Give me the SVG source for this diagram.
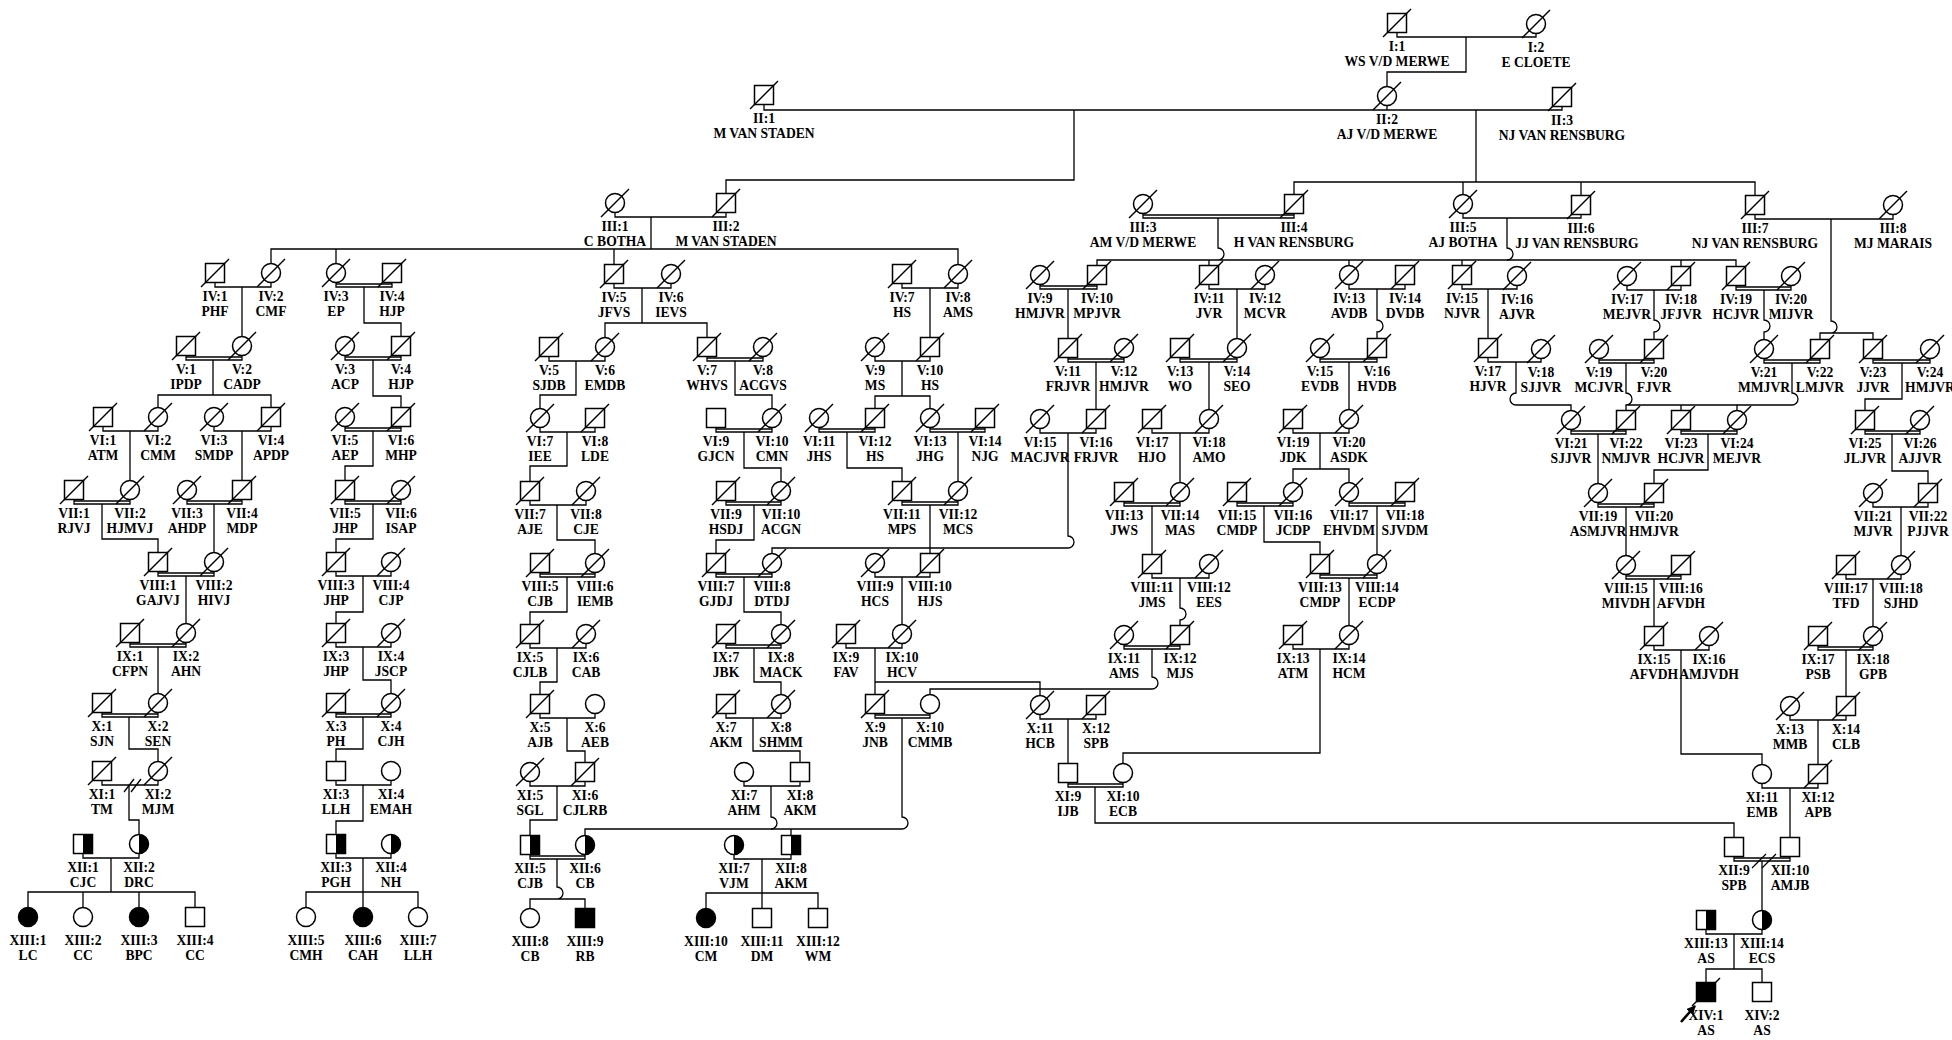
<svg xmlns="http://www.w3.org/2000/svg" width="1952" height="1040" viewBox="0 0 1952 1040">
<style>
.s{fill:#fff;stroke:#000;stroke-width:1.5}
.k{fill:#000;stroke:#000;stroke-width:1.5}
.l{fill:none;stroke:#000;stroke-width:1.3}
text{font-family:"Liberation Serif","Times New Roman",serif;font-weight:700;font-size:13.6px;text-anchor:middle;fill:#000}
</style>
<defs>
<rect id="sq" class="s" x="-9.5" y="-9.5" width="19" height="19"/>
<circle id="ci" class="s" r="9.5"/>
<rect id="sqf" class="k" x="-9.5" y="-9.5" width="19" height="19"/>
<circle id="cif" class="k" r="9.5"/>
<g id="sqh"><rect class="s" x="-9.5" y="-9.5" width="19" height="19"/><rect x="0" y="-9.5" width="9.5" height="19" fill="#000"/></g>
<g id="cih"><circle class="s" r="9.5"/><path d="M0 -9.5A9.5 9.5 0 0 1 0 9.5Z" fill="#000"/></g>
<path id="d" d="M-14 14L14 -14" stroke="#000" stroke-width="1.4" fill="none"/>
<marker id="ah" viewBox="0 0 10 10" refX="9" refY="5" markerWidth="9" markerHeight="9" markerUnits="userSpaceOnUse" orient="auto"><path d="M0 0L10 5L0 10Z"/></marker>
</defs>
<rect width="1952" height="1040" fill="#fff"/>
<g id="connectors" class="l">
<path d="M1397 32.5V37H1536V33.5"/>
<path d="M764 104.5V110H1562V106.5M1387 105.5V110"/>
<path d="M615 212.5V217H726V212.5"/>
<path d="M1143 213.5V218H1294V213.5M1143 215H1294"/>
<path d="M1463 213.5V218H1581V214.5"/>
<path d="M1755 214.5V219H1893V214.5"/>
<path d="M215 282.5V287H271V282.5"/>
<path d="M336 282.5V287H392V282.5M336 284H392"/>
<path d="M614 283.5V288H671V283.5"/>
<path d="M902 283.5V288H958V283.5"/>
<path d="M1040 284.5V289H1097V284.5M1040 286H1097"/>
<path d="M1209 284.5V289H1265V284.5"/>
<path d="M1349 284.5V289H1405V284.5"/>
<path d="M1462 284.5V289H1517V285.5"/>
<path d="M1627 285.5V290H1681V285.5"/>
<path d="M1736 285.5V290H1791V285.5M1736 287H1791"/>
<path d="M186 355.5V360H242V355.5M186 357H242"/>
<path d="M345 355.5V360H401V355.5M345 357H401"/>
<path d="M549 356.5V361H605V356.5"/>
<path d="M707 356.5V361H763V356.5M707 358H763"/>
<path d="M875 356.5V361H930V356.5"/>
<path d="M1068 357.5V362H1124V357.5M1068 359H1124"/>
<path d="M1180 357.5V362H1237V357.5M1180 359H1237"/>
<path d="M1320 357.5V362H1377V357.5M1320 359H1377"/>
<path d="M1488 357.5V362H1541V358.5"/>
<path d="M1599 358.5V363H1654V358.5M1599 360H1654"/>
<path d="M1764 358.5V363H1820V358.5M1764 360H1820"/>
<path d="M1873 358.5V363H1930V358.5M1873 360H1930"/>
<path d="M103 426.5V431H158V426.5"/>
<path d="M214 426.5V431H271V426.5"/>
<path d="M345 426.5V431H401V426.5M345 428H401"/>
<path d="M540 427.5V432H595V427.5"/>
<path d="M716 427.5V432H772V427.5M716 429H772"/>
<path d="M819 427.5V432H875V427.5M819 429H875"/>
<path d="M930 427.5V432H985V427.5M930 429H985"/>
<path d="M1040 428.5V433H1096V428.5"/>
<path d="M1152 428.5V433H1209V428.5"/>
<path d="M1293 428.5V433H1349V428.5"/>
<path d="M1571 429.5V434H1626V429.5M1571 431H1626"/>
<path d="M1681 429.5V434H1737V429.5M1681 431H1737"/>
<path d="M1865 429.5V434H1920V429.5M1865 431H1920"/>
<path d="M74 499.5V504H130V499.5M74 501H130"/>
<path d="M187 499.5V504H242V499.5M187 501H242"/>
<path d="M345 499.5V504H401V499.5M345 501H401"/>
<path d="M530 500.5V505H586V500.5"/>
<path d="M726 500.5V505H781V500.5M726 502H781"/>
<path d="M902 500.5V505H958V500.5M902 502H958"/>
<path d="M1124 501.5V506H1180V501.5M1124 503H1180"/>
<path d="M1237 501.5V506H1293V501.5M1237 503H1293"/>
<path d="M1349 501.5V506H1405V501.5M1349 503H1405"/>
<path d="M1598 502.5V507H1654V502.5M1598 504H1654"/>
<path d="M1873 502.5V507H1928V502.5"/>
<path d="M158 571.5V576H214V571.5M158 573H214"/>
<path d="M336 571.5V576H391V571.5"/>
<path d="M540 572.5V577H595V572.5M540 574H595"/>
<path d="M716 572.5V577H772V572.5M716 574H772"/>
<path d="M875 572.5V577H930V572.5"/>
<path d="M1152 573.5V578H1209V573.5"/>
<path d="M1320 573.5V578H1377V573.5M1320 575H1377"/>
<path d="M1626 574.5V579H1681V574.5M1626 576H1681"/>
<path d="M1846 574.5V579H1901V574.5"/>
<path d="M130 642.5V647H186V642.5M130 644H186"/>
<path d="M336 642.5V647H391V642.5"/>
<path d="M530 643.5V648H586V643.5"/>
<path d="M726 643.5V648H781V643.5M726 645H781"/>
<path d="M846 643.5V648H902V643.5"/>
<path d="M1124 644.5V649H1180V644.5M1124 646H1180"/>
<path d="M1293 644.5V649H1349V644.5"/>
<path d="M1654 645.5V650H1709V645.5"/>
<path d="M1818 645.5V650H1873V645.5M1818 647H1873"/>
<path d="M102 712.5V717H158V712.5M102 714H158"/>
<path d="M336 712.5V717H391V712.5M336 714H391"/>
<path d="M540 713.5V718H595V713.5"/>
<path d="M726 713.5V718H781V713.5"/>
<path d="M875 713.5V718H930V713.5M875 715H930"/>
<path d="M1040 714.5V719H1096V714.5"/>
<path d="M1790 715.5V720H1846V715.5"/>
<path d="M102 780.5V785H158V780.5"/>
<path d="M336 780.5V785H391V780.5"/>
<path d="M530 781.5V786H585V781.5"/>
<path d="M744 781.5V786H800V781.5"/>
<path d="M1068 782.5V787H1123V782.5M1068 784H1123"/>
<path d="M1762 783.5V788H1818V783.5"/>
<path d="M83 853.5V858H139V853.5"/>
<path d="M336 853.5V858H391V853.5"/>
<path d="M530 854.5V859H585V854.5M530 856H585"/>
<path d="M734 854.5V859H791V854.5"/>
<path d="M1734 856.5V861H1790V856.5M1734 858H1790"/>
<path d="M1706 929.5V934H1762V929.5"/>
<path d="M124 792L134 779M131 792L141 779"/>
<path d="M1752 868L1766 854M1762 868L1776 854"/>
<path d="M1466 37V72H1387V86.5"/>
<path d="M1074 110V180H726V193.5"/>
<path d="M1476 110V182M1294 194.5V182H1755V195.5M1463 182V194.5M1581 182V195.5"/>
<path d="M651 217V249M271 263.5V249H958V264.5M336 249V263.5M614 249V264.5"/>
<path d="M1218 218V248A6 6 0 0 1 1218 260M1097 265.5V260H1736V266.5M1209 260V265.5M1349 260V265.5M1462 260V265.5M1681 260V266.5"/>
<path d="M1507 218V248A6 6 0 0 1 1507 260"/>
<path d="M1831 219V321A6 6 0 0 1 1831 333M1820 339.5V333H1873V339.5"/>
<path d="M242 287V336.5"/>
<path d="M364 287V323H401V336.5"/>
<path d="M642 288V323M605 337.5V323H707V337.5"/>
<path d="M930 288V337.5"/>
<path d="M1068 289V338.5"/>
<path d="M1237 289V338.5"/>
<path d="M1377 289V320A6 6 0 0 1 1377 332V338.5"/>
<path d="M1488 289V338.5"/>
<path d="M1654 290V320A6 6 0 0 1 1654 332V339.5"/>
<path d="M1764 290V320A6 6 0 0 1 1764 332V339.5"/>
<path d="M213 360V395M158 407.5V395H271V407.5"/>
<path d="M373 360V396H401V407.5"/>
<path d="M576 361V395H540V408.5"/>
<path d="M735 361V395H772V408.5"/>
<path d="M902 361V396M875 408.5V396H930V408.5"/>
<path d="M1096 362V409.5"/>
<path d="M1209 362V409.5"/>
<path d="M1349 362V409.5"/>
<path d="M1516 362V393A6 6 0 0 0 1516 405H1571V410.5"/>
<path d="M1626 363V393A6 6 0 0 1 1626 405V410.5M1626 405H1737V410.5M1681 405V410.5"/>
<path d="M1792 363V393A6 6 0 0 1 1792 405H1737"/>
<path d="M1902 363V399H1865V410.5"/>
<path d="M130 431V480.5"/>
<path d="M242 431V480.5"/>
<path d="M373 431V466H345V480.5"/>
<path d="M567 432V466H530V481.5"/>
<path d="M744 432V468H781V481.5"/>
<path d="M847 432V468H902V481.5"/>
<path d="M958 432V481.5"/>
<path d="M1068 433V536A6 6 0 0 1 1068 548H772V553.5"/>
<path d="M1180 433V482.5"/>
<path d="M1320 433V469M1293 482.5V469H1349V482.5"/>
<path d="M1598 434V483.5"/>
<path d="M1708 434V470H1654V483.5"/>
<path d="M1892 434V471H1928V483.5"/>
<path d="M102 504V539H158V552.5"/>
<path d="M214 504V552.5"/>
<path d="M373 504V539H336V552.5"/>
<path d="M557 505V540H595V553.5"/>
<path d="M754 505V540H716V553.5"/>
<path d="M930 505V553.5"/>
<path d="M1152 506V554.5"/>
<path d="M1264 506V542H1320V554.5"/>
<path d="M1377 506V554.5"/>
<path d="M1626 507V555.5"/>
<path d="M1901 507V555.5"/>
<path d="M186 576V623.5"/>
<path d="M363 576V612H336V623.5"/>
<path d="M567 577V612H530V624.5"/>
<path d="M744 577V612H781V624.5"/>
<path d="M902 577V624.5"/>
<path d="M1180 578V608A6 6 0 0 1 1180 620V625.5"/>
<path d="M1349 578V625.5"/>
<path d="M1654 579V626.5"/>
<path d="M1873 579V626.5"/>
<path d="M158 647V693.5"/>
<path d="M363 647V680H391V693.5"/>
<path d="M557 648V682H540V694.5"/>
<path d="M754 648V682H781V694.5"/>
<path d="M875 648V694.5M875 682H1040V695.5"/>
<path d="M1152 649V677A6 6 0 0 1 1152 689H930V694.5"/>
<path d="M1320 649V753H1123V763.5"/>
<path d="M1681 650V754H1762V764.5"/>
<path d="M1846 650V696.5"/>
<path d="M129 717V749H158V761.5"/>
<path d="M363 717V749H336V761.5"/>
<path d="M567 718V751H585V762.5"/>
<path d="M753 718V751H800V762.5"/>
<path d="M902 718V817A6 6 0 0 1 902 829H585V835.5M791 829V835.5"/>
<path d="M771 786V817A6 6 0 0 1 771 829"/>
<path d="M1068 719V763.5"/>
<path d="M1818 720V764.5"/>
<path d="M129 785V820H139V834.5"/>
<path d="M363 785V821H336V834.5"/>
<path d="M557 786V820H530V835.5"/>
<path d="M1095 787V823H1734V837.5"/>
<path d="M1790 788V837.5"/>
<path d="M111 858V892M28 907.5V892H195V907.5M83 892V907.5M139 892V907.5"/>
<path d="M363 858V892M306 907.5V892H418V907.5M363 892V907.5"/>
<path d="M557 859V887A6 6 0 0 1 557 899M530 908.5V899H585V908.5"/>
<path d="M762 859V893M706 908.5V893H818V908.5M762 893V908.5"/>
<path d="M1762 861V910.5"/>
<path d="M1734 934V969M1706 982.5V969H1762V982.5"/>
<path d="M1681 1022L1695 1006" stroke-width="2.6" marker-end="url(#ah)"/>
</g>
<g id="nodes">
<g id="I-1" transform="translate(1397 23)"><use href="#sq"/><use href="#d"/><text y="27.5">I:1</text><text y="42.5">WS V/D MERWE</text></g>
<g id="I-2" transform="translate(1536 24)"><use href="#ci"/><use href="#d"/><text y="27.5">I:2</text><text y="42.5">E CLOETE</text></g>
<g id="II-1" transform="translate(764 95)"><use href="#sq"/><use href="#d"/><text y="27.5">II:1</text><text y="42.5">M VAN STADEN</text></g>
<g id="II-2" transform="translate(1387 96)"><use href="#ci"/><use href="#d"/><text y="27.5">II:2</text><text y="42.5">AJ V/D MERWE</text></g>
<g id="II-3" transform="translate(1562 97)"><use href="#sq"/><use href="#d"/><text y="27.5">II:3</text><text y="42.5">NJ VAN RENSBURG</text></g>
<g id="III-1" transform="translate(615 203)"><use href="#ci"/><use href="#d"/><text y="27.5">III:1</text><text y="42.5">C BOTHA</text></g>
<g id="III-2" transform="translate(726 203)"><use href="#sq"/><use href="#d"/><text y="27.5">III:2</text><text y="42.5">M VAN STADEN</text></g>
<g id="III-3" transform="translate(1143 204)"><use href="#ci"/><use href="#d"/><text y="27.5">III:3</text><text y="42.5">AM V/D MERWE</text></g>
<g id="III-4" transform="translate(1294 204)"><use href="#sq"/><use href="#d"/><text y="27.5">III:4</text><text y="42.5">H VAN RENSBURG</text></g>
<g id="III-5" transform="translate(1463 204)"><use href="#ci"/><use href="#d"/><text y="27.5">III:5</text><text y="42.5">AJ BOTHA</text></g>
<g id="III-6" transform="translate(1581 205)"><use href="#sq"/><use href="#d"/><text y="27.5">III:6</text><text x="-4" y="42.5">JJ VAN RENSBURG</text></g>
<g id="III-7" transform="translate(1755 205)"><use href="#sq"/><use href="#d"/><text y="27.5">III:7</text><text y="42.5">NJ VAN RENSBURG</text></g>
<g id="III-8" transform="translate(1893 205)"><use href="#ci"/><use href="#d"/><text y="27.5">III:8</text><text y="42.5">MJ MARAIS</text></g>
<g id="IV-1" transform="translate(215 273)"><use href="#sq"/><use href="#d"/><text y="27.5">IV:1</text><text y="42.5">PHF</text></g>
<g id="IV-2" transform="translate(271 273)"><use href="#ci"/><use href="#d"/><text y="27.5">IV:2</text><text y="42.5">CMF</text></g>
<g id="IV-3" transform="translate(336 273)"><use href="#ci"/><use href="#d"/><text y="27.5">IV:3</text><text y="42.5">EP</text></g>
<g id="IV-4" transform="translate(392 273)"><use href="#sq"/><use href="#d"/><text y="27.5">IV:4</text><text y="42.5">HJP</text></g>
<g id="IV-5" transform="translate(614 274)"><use href="#sq"/><use href="#d"/><text y="27.5">IV:5</text><text y="42.5">JFVS</text></g>
<g id="IV-6" transform="translate(671 274)"><use href="#ci"/><use href="#d"/><text y="27.5">IV:6</text><text y="42.5">IEVS</text></g>
<g id="IV-7" transform="translate(902 274)"><use href="#sq"/><use href="#d"/><text y="27.5">IV:7</text><text y="42.5">HS</text></g>
<g id="IV-8" transform="translate(958 274)"><use href="#ci"/><use href="#d"/><text y="27.5">IV:8</text><text y="42.5">AMS</text></g>
<g id="IV-9" transform="translate(1040 275)"><use href="#ci"/><use href="#d"/><text y="27.5">IV:9</text><text y="42.5">HMJVR</text></g>
<g id="IV-10" transform="translate(1097 275)"><use href="#sq"/><use href="#d"/><text y="27.5">IV:10</text><text y="42.5">MPJVR</text></g>
<g id="IV-11" transform="translate(1209 275)"><use href="#sq"/><use href="#d"/><text y="27.5">IV:11</text><text y="42.5">JVR</text></g>
<g id="IV-12" transform="translate(1265 275)"><use href="#ci"/><use href="#d"/><text y="27.5">IV:12</text><text y="42.5">MCVR</text></g>
<g id="IV-13" transform="translate(1349 275)"><use href="#ci"/><use href="#d"/><text y="27.5">IV:13</text><text y="42.5">AVDB</text></g>
<g id="IV-14" transform="translate(1405 275)"><use href="#sq"/><use href="#d"/><text y="27.5">IV:14</text><text y="42.5">DVDB</text></g>
<g id="IV-15" transform="translate(1462 275)"><use href="#sq"/><use href="#d"/><text y="27.5">IV:15</text><text y="42.5">NJVR</text></g>
<g id="IV-16" transform="translate(1517 276)"><use href="#ci"/><use href="#d"/><text y="27.5">IV:16</text><text y="42.5">AJVR</text></g>
<g id="IV-17" transform="translate(1627 276)"><use href="#ci"/><use href="#d"/><text y="27.5">IV:17</text><text y="42.5">MEJVR</text></g>
<g id="IV-18" transform="translate(1681 276)"><use href="#sq"/><use href="#d"/><text y="27.5">IV:18</text><text y="42.5">JFJVR</text></g>
<g id="IV-19" transform="translate(1736 276)"><use href="#sq"/><use href="#d"/><text y="27.5">IV:19</text><text y="42.5">HCJVR</text></g>
<g id="IV-20" transform="translate(1791 276)"><use href="#ci"/><use href="#d"/><text y="27.5">IV:20</text><text y="42.5">MIJVR</text></g>
<g id="V-1" transform="translate(186 346)"><use href="#sq"/><use href="#d"/><text y="27.5">V:1</text><text y="42.5">IPDP</text></g>
<g id="V-2" transform="translate(242 346)"><use href="#ci"/><use href="#d"/><text y="27.5">V:2</text><text y="42.5">CADP</text></g>
<g id="V-3" transform="translate(345 346)"><use href="#ci"/><use href="#d"/><text y="27.5">V:3</text><text y="42.5">ACP</text></g>
<g id="V-4" transform="translate(401 346)"><use href="#sq"/><use href="#d"/><text y="27.5">V:4</text><text y="42.5">HJP</text></g>
<g id="V-5" transform="translate(549 347)"><use href="#sq"/><use href="#d"/><text y="27.5">V:5</text><text y="42.5">SJDB</text></g>
<g id="V-6" transform="translate(605 347)"><use href="#ci"/><use href="#d"/><text y="27.5">V:6</text><text y="42.5">EMDB</text></g>
<g id="V-7" transform="translate(707 347)"><use href="#sq"/><use href="#d"/><text y="27.5">V:7</text><text y="42.5">WHVS</text></g>
<g id="V-8" transform="translate(763 347)"><use href="#ci"/><use href="#d"/><text y="27.5">V:8</text><text y="42.5">ACGVS</text></g>
<g id="V-9" transform="translate(875 347)"><use href="#ci"/><use href="#d"/><text y="27.5">V:9</text><text y="42.5">MS</text></g>
<g id="V-10" transform="translate(930 347)"><use href="#sq"/><use href="#d"/><text y="27.5">V:10</text><text y="42.5">HS</text></g>
<g id="V-11" transform="translate(1068 348)"><use href="#sq"/><use href="#d"/><text y="27.5">V:11</text><text y="42.5">FRJVR</text></g>
<g id="V-12" transform="translate(1124 348)"><use href="#ci"/><use href="#d"/><text y="27.5">V:12</text><text y="42.5">HMJVR</text></g>
<g id="V-13" transform="translate(1180 348)"><use href="#sq"/><use href="#d"/><text y="27.5">V:13</text><text y="42.5">WO</text></g>
<g id="V-14" transform="translate(1237 348)"><use href="#ci"/><use href="#d"/><text y="27.5">V:14</text><text y="42.5">SEO</text></g>
<g id="V-15" transform="translate(1320 348)"><use href="#ci"/><use href="#d"/><text y="27.5">V:15</text><text y="42.5">EVDB</text></g>
<g id="V-16" transform="translate(1377 348)"><use href="#sq"/><use href="#d"/><text y="27.5">V:16</text><text y="42.5">HVDB</text></g>
<g id="V-17" transform="translate(1488 348)"><use href="#sq"/><use href="#d"/><text y="27.5">V:17</text><text y="42.5">HJVR</text></g>
<g id="V-18" transform="translate(1541 349)"><use href="#ci"/><use href="#d"/><text y="27.5">V:18</text><text y="42.5">SJJVR</text></g>
<g id="V-19" transform="translate(1599 349)"><use href="#ci"/><use href="#d"/><text y="27.5">V:19</text><text y="42.5">MCJVR</text></g>
<g id="V-20" transform="translate(1654 349)"><use href="#sq"/><use href="#d"/><text y="27.5">V:20</text><text y="42.5">FJVR</text></g>
<g id="V-21" transform="translate(1764 349)"><use href="#ci"/><use href="#d"/><text y="27.5">V:21</text><text y="42.5">MMJVR</text></g>
<g id="V-22" transform="translate(1820 349)"><use href="#sq"/><use href="#d"/><text y="27.5">V:22</text><text y="42.5">LMJVR</text></g>
<g id="V-23" transform="translate(1873 349)"><use href="#sq"/><use href="#d"/><text y="27.5">V:23</text><text y="42.5">JJVR</text></g>
<g id="V-24" transform="translate(1930 349)"><use href="#ci"/><use href="#d"/><text y="27.5">V:24</text><text y="42.5">HMJVR</text></g>
<g id="VI-1" transform="translate(103 417)"><use href="#sq"/><use href="#d"/><text y="27.5">VI:1</text><text y="42.5">ATM</text></g>
<g id="VI-2" transform="translate(158 417)"><use href="#ci"/><use href="#d"/><text y="27.5">VI:2</text><text y="42.5">CMM</text></g>
<g id="VI-3" transform="translate(214 417)"><use href="#ci"/><use href="#d"/><text y="27.5">VI:3</text><text y="42.5">SMDP</text></g>
<g id="VI-4" transform="translate(271 417)"><use href="#sq"/><use href="#d"/><text y="27.5">VI:4</text><text y="42.5">APDP</text></g>
<g id="VI-5" transform="translate(345 417)"><use href="#ci"/><use href="#d"/><text y="27.5">VI:5</text><text y="42.5">AEP</text></g>
<g id="VI-6" transform="translate(401 417)"><use href="#sq"/><use href="#d"/><text y="27.5">VI:6</text><text y="42.5">MHP</text></g>
<g id="VI-7" transform="translate(540 418)"><use href="#ci"/><use href="#d"/><text y="27.5">VI:7</text><text y="42.5">IEE</text></g>
<g id="VI-8" transform="translate(595 418)"><use href="#sq"/><use href="#d"/><text y="27.5">VI:8</text><text y="42.5">LDE</text></g>
<g id="VI-9" transform="translate(716 418)"><use href="#sq"/><text y="27.5">VI:9</text><text y="42.5">GJCN</text></g>
<g id="VI-10" transform="translate(772 418)"><use href="#ci"/><use href="#d"/><text y="27.5">VI:10</text><text y="42.5">CMN</text></g>
<g id="VI-11" transform="translate(819 418)"><use href="#ci"/><use href="#d"/><text y="27.5">VI:11</text><text y="42.5">JHS</text></g>
<g id="VI-12" transform="translate(875 418)"><use href="#sq"/><use href="#d"/><text y="27.5">VI:12</text><text y="42.5">HS</text></g>
<g id="VI-13" transform="translate(930 418)"><use href="#ci"/><use href="#d"/><text y="27.5">VI:13</text><text y="42.5">JHG</text></g>
<g id="VI-14" transform="translate(985 418)"><use href="#sq"/><use href="#d"/><text y="27.5">VI:14</text><text y="42.5">NJG</text></g>
<g id="VI-15" transform="translate(1040 419)"><use href="#ci"/><use href="#d"/><text y="27.5">VI:15</text><text y="42.5">MACJVR</text></g>
<g id="VI-16" transform="translate(1096 419)"><use href="#sq"/><use href="#d"/><text y="27.5">VI:16</text><text y="42.5">FRJVR</text></g>
<g id="VI-17" transform="translate(1152 419)"><use href="#sq"/><use href="#d"/><text y="27.5">VI:17</text><text y="42.5">HJO</text></g>
<g id="VI-18" transform="translate(1209 419)"><use href="#ci"/><use href="#d"/><text y="27.5">VI:18</text><text y="42.5">AMO</text></g>
<g id="VI-19" transform="translate(1293 419)"><use href="#sq"/><use href="#d"/><text y="27.5">VI:19</text><text y="42.5">JDK</text></g>
<g id="VI-20" transform="translate(1349 419)"><use href="#ci"/><use href="#d"/><text y="27.5">VI:20</text><text y="42.5">ASDK</text></g>
<g id="VI-21" transform="translate(1571 420)"><use href="#ci"/><use href="#d"/><text y="27.5">VI:21</text><text y="42.5">SJJVR</text></g>
<g id="VI-22" transform="translate(1626 420)"><use href="#sq"/><use href="#d"/><text y="27.5">VI:22</text><text y="42.5">NMJVR</text></g>
<g id="VI-23" transform="translate(1681 420)"><use href="#sq"/><use href="#d"/><text y="27.5">VI:23</text><text y="42.5">HCJVR</text></g>
<g id="VI-24" transform="translate(1737 420)"><use href="#ci"/><use href="#d"/><text y="27.5">VI:24</text><text y="42.5">MEJVR</text></g>
<g id="VI-25" transform="translate(1865 420)"><use href="#sq"/><use href="#d"/><text y="27.5">VI:25</text><text y="42.5">JLJVR</text></g>
<g id="VI-26" transform="translate(1920 420)"><use href="#ci"/><use href="#d"/><text y="27.5">VI:26</text><text y="42.5">AJJVR</text></g>
<g id="VII-1" transform="translate(74 490)"><use href="#sq"/><use href="#d"/><text y="27.5">VII:1</text><text y="42.5">RJVJ</text></g>
<g id="VII-2" transform="translate(130 490)"><use href="#ci"/><use href="#d"/><text y="27.5">VII:2</text><text y="42.5">HJMVJ</text></g>
<g id="VII-3" transform="translate(187 490)"><use href="#ci"/><use href="#d"/><text y="27.5">VII:3</text><text y="42.5">AHDP</text></g>
<g id="VII-4" transform="translate(242 490)"><use href="#sq"/><use href="#d"/><text y="27.5">VII:4</text><text y="42.5">MDP</text></g>
<g id="VII-5" transform="translate(345 490)"><use href="#sq"/><use href="#d"/><text y="27.5">VII:5</text><text y="42.5">JHP</text></g>
<g id="VII-6" transform="translate(401 490)"><use href="#ci"/><use href="#d"/><text y="27.5">VII:6</text><text y="42.5">ISAP</text></g>
<g id="VII-7" transform="translate(530 491)"><use href="#sq"/><use href="#d"/><text y="27.5">VII:7</text><text y="42.5">AJE</text></g>
<g id="VII-8" transform="translate(586 491)"><use href="#ci"/><use href="#d"/><text y="27.5">VII:8</text><text y="42.5">CJE</text></g>
<g id="VII-9" transform="translate(726 491)"><use href="#sq"/><use href="#d"/><text y="27.5">VII:9</text><text y="42.5">HSDJ</text></g>
<g id="VII-10" transform="translate(781 491)"><use href="#ci"/><use href="#d"/><text y="27.5">VII:10</text><text y="42.5">ACGN</text></g>
<g id="VII-11" transform="translate(902 491)"><use href="#sq"/><use href="#d"/><text y="27.5">VII:11</text><text y="42.5">MPS</text></g>
<g id="VII-12" transform="translate(958 491)"><use href="#ci"/><use href="#d"/><text y="27.5">VII:12</text><text y="42.5">MCS</text></g>
<g id="VII-13" transform="translate(1124 492)"><use href="#sq"/><use href="#d"/><text y="27.5">VII:13</text><text y="42.5">JWS</text></g>
<g id="VII-14" transform="translate(1180 492)"><use href="#ci"/><use href="#d"/><text y="27.5">VII:14</text><text y="42.5">MAS</text></g>
<g id="VII-15" transform="translate(1237 492)"><use href="#sq"/><use href="#d"/><text y="27.5">VII:15</text><text y="42.5">CMDP</text></g>
<g id="VII-16" transform="translate(1293 492)"><use href="#ci"/><use href="#d"/><text y="27.5">VII:16</text><text y="42.5">JCDP</text></g>
<g id="VII-17" transform="translate(1349 492)"><use href="#ci"/><use href="#d"/><text y="27.5">VII:17</text><text y="42.5">EHVDM</text></g>
<g id="VII-18" transform="translate(1405 492)"><use href="#sq"/><use href="#d"/><text y="27.5">VII:18</text><text y="42.5">SJVDM</text></g>
<g id="VII-19" transform="translate(1598 493)"><use href="#ci"/><use href="#d"/><text y="27.5">VII:19</text><text y="42.5">ASMJVR</text></g>
<g id="VII-20" transform="translate(1654 493)"><use href="#sq"/><use href="#d"/><text y="27.5">VII:20</text><text y="42.5">HMJVR</text></g>
<g id="VII-21" transform="translate(1873 493)"><use href="#ci"/><use href="#d"/><text y="27.5">VII:21</text><text y="42.5">MJVR</text></g>
<g id="VII-22" transform="translate(1928 493)"><use href="#sq"/><use href="#d"/><text y="27.5">VII:22</text><text y="42.5">PJJVR</text></g>
<g id="VIII-1" transform="translate(158 562)"><use href="#sq"/><use href="#d"/><text y="27.5">VIII:1</text><text y="42.5">GAJVJ</text></g>
<g id="VIII-2" transform="translate(214 562)"><use href="#ci"/><use href="#d"/><text y="27.5">VIII:2</text><text y="42.5">HIVJ</text></g>
<g id="VIII-3" transform="translate(336 562)"><use href="#sq"/><use href="#d"/><text y="27.5">VIII:3</text><text y="42.5">JHP</text></g>
<g id="VIII-4" transform="translate(391 562)"><use href="#ci"/><use href="#d"/><text y="27.5">VIII:4</text><text y="42.5">CJP</text></g>
<g id="VIII-5" transform="translate(540 563)"><use href="#sq"/><use href="#d"/><text y="27.5">VIII:5</text><text y="42.5">CJB</text></g>
<g id="VIII-6" transform="translate(595 563)"><use href="#ci"/><use href="#d"/><text y="27.5">VIII:6</text><text y="42.5">IEMB</text></g>
<g id="VIII-7" transform="translate(716 563)"><use href="#sq"/><use href="#d"/><text y="27.5">VIII:7</text><text y="42.5">GJDJ</text></g>
<g id="VIII-8" transform="translate(772 563)"><use href="#ci"/><use href="#d"/><text y="27.5">VIII:8</text><text y="42.5">DTDJ</text></g>
<g id="VIII-9" transform="translate(875 563)"><use href="#ci"/><use href="#d"/><text y="27.5">VIII:9</text><text y="42.5">HCS</text></g>
<g id="VIII-10" transform="translate(930 563)"><use href="#sq"/><use href="#d"/><text y="27.5">VIII:10</text><text y="42.5">HJS</text></g>
<g id="VIII-11" transform="translate(1152 564)"><use href="#sq"/><use href="#d"/><text y="27.5">VIII:11</text><text y="42.5">JMS</text></g>
<g id="VIII-12" transform="translate(1209 564)"><use href="#ci"/><use href="#d"/><text y="27.5">VIII:12</text><text y="42.5">EES</text></g>
<g id="VIII-13" transform="translate(1320 564)"><use href="#sq"/><use href="#d"/><text y="27.5">VIII:13</text><text y="42.5">CMDP</text></g>
<g id="VIII-14" transform="translate(1377 564)"><use href="#ci"/><use href="#d"/><text y="27.5">VIII:14</text><text y="42.5">ECDP</text></g>
<g id="VIII-15" transform="translate(1626 565)"><use href="#ci"/><use href="#d"/><text y="27.5">VIII:15</text><text y="42.5">MIVDH</text></g>
<g id="VIII-16" transform="translate(1681 565)"><use href="#sq"/><use href="#d"/><text y="27.5">VIII:16</text><text y="42.5">AFVDH</text></g>
<g id="VIII-17" transform="translate(1846 565)"><use href="#sq"/><use href="#d"/><text y="27.5">VIII:17</text><text y="42.5">TFD</text></g>
<g id="VIII-18" transform="translate(1901 565)"><use href="#ci"/><use href="#d"/><text y="27.5">VIII:18</text><text y="42.5">SJHD</text></g>
<g id="IX-1" transform="translate(130 633)"><use href="#sq"/><use href="#d"/><text y="27.5">IX:1</text><text y="42.5">CFPN</text></g>
<g id="IX-2" transform="translate(186 633)"><use href="#ci"/><use href="#d"/><text y="27.5">IX:2</text><text y="42.5">AHN</text></g>
<g id="IX-3" transform="translate(336 633)"><use href="#sq"/><use href="#d"/><text y="27.5">IX:3</text><text y="42.5">JHP</text></g>
<g id="IX-4" transform="translate(391 633)"><use href="#ci"/><use href="#d"/><text y="27.5">IX:4</text><text y="42.5">JSCP</text></g>
<g id="IX-5" transform="translate(530 634)"><use href="#sq"/><use href="#d"/><text y="27.5">IX:5</text><text y="42.5">CJLB</text></g>
<g id="IX-6" transform="translate(586 634)"><use href="#ci"/><use href="#d"/><text y="27.5">IX:6</text><text y="42.5">CAB</text></g>
<g id="IX-7" transform="translate(726 634)"><use href="#sq"/><use href="#d"/><text y="27.5">IX:7</text><text y="42.5">JBK</text></g>
<g id="IX-8" transform="translate(781 634)"><use href="#ci"/><use href="#d"/><text y="27.5">IX:8</text><text y="42.5">MACK</text></g>
<g id="IX-9" transform="translate(846 634)"><use href="#sq"/><use href="#d"/><text y="27.5">IX:9</text><text y="42.5">FAV</text></g>
<g id="IX-10" transform="translate(902 634)"><use href="#ci"/><use href="#d"/><text y="27.5">IX:10</text><text y="42.5">HCV</text></g>
<g id="IX-11" transform="translate(1124 635)"><use href="#ci"/><use href="#d"/><text y="27.5">IX:11</text><text y="42.5">AMS</text></g>
<g id="IX-12" transform="translate(1180 635)"><use href="#sq"/><use href="#d"/><text y="27.5">IX:12</text><text y="42.5">MJS</text></g>
<g id="IX-13" transform="translate(1293 635)"><use href="#sq"/><use href="#d"/><text y="27.5">IX:13</text><text y="42.5">ATM</text></g>
<g id="IX-14" transform="translate(1349 635)"><use href="#ci"/><use href="#d"/><text y="27.5">IX:14</text><text y="42.5">HCM</text></g>
<g id="IX-15" transform="translate(1654 636)"><use href="#sq"/><use href="#d"/><text y="27.5">IX:15</text><text y="42.5">AFVDH</text></g>
<g id="IX-16" transform="translate(1709 636)"><use href="#ci"/><use href="#d"/><text y="27.5">IX:16</text><text y="42.5">AMJVDH</text></g>
<g id="IX-17" transform="translate(1818 636)"><use href="#sq"/><use href="#d"/><text y="27.5">IX:17</text><text y="42.5">PSB</text></g>
<g id="IX-18" transform="translate(1873 636)"><use href="#ci"/><use href="#d"/><text y="27.5">IX:18</text><text y="42.5">GPB</text></g>
<g id="X-1" transform="translate(102 703)"><use href="#sq"/><use href="#d"/><text y="27.5">X:1</text><text y="42.5">SJN</text></g>
<g id="X-2" transform="translate(158 703)"><use href="#ci"/><use href="#d"/><text y="27.5">X:2</text><text y="42.5">SEN</text></g>
<g id="X-3" transform="translate(336 703)"><use href="#sq"/><use href="#d"/><text y="27.5">X:3</text><text y="42.5">PH</text></g>
<g id="X-4" transform="translate(391 703)"><use href="#ci"/><use href="#d"/><text y="27.5">X:4</text><text y="42.5">CJH</text></g>
<g id="X-5" transform="translate(540 704)"><use href="#sq"/><use href="#d"/><text y="27.5">X:5</text><text y="42.5">AJB</text></g>
<g id="X-6" transform="translate(595 704)"><use href="#ci"/><text y="27.5">X:6</text><text y="42.5">AEB</text></g>
<g id="X-7" transform="translate(726 704)"><use href="#sq"/><use href="#d"/><text y="27.5">X:7</text><text y="42.5">AKM</text></g>
<g id="X-8" transform="translate(781 704)"><use href="#ci"/><use href="#d"/><text y="27.5">X:8</text><text y="42.5">SHMM</text></g>
<g id="X-9" transform="translate(875 704)"><use href="#sq"/><use href="#d"/><text y="27.5">X:9</text><text y="42.5">JNB</text></g>
<g id="X-10" transform="translate(930 704)"><use href="#ci"/><text y="27.5">X:10</text><text y="42.5">CMMB</text></g>
<g id="X-11" transform="translate(1040 705)"><use href="#ci"/><use href="#d"/><text y="27.5">X:11</text><text y="42.5">HCB</text></g>
<g id="X-12" transform="translate(1096 705)"><use href="#sq"/><use href="#d"/><text y="27.5">X:12</text><text y="42.5">SPB</text></g>
<g id="X-13" transform="translate(1790 706)"><use href="#ci"/><use href="#d"/><text y="27.5">X:13</text><text y="42.5">MMB</text></g>
<g id="X-14" transform="translate(1846 706)"><use href="#sq"/><use href="#d"/><text y="27.5">X:14</text><text y="42.5">CLB</text></g>
<g id="XI-1" transform="translate(102 771)"><use href="#sq"/><use href="#d"/><text y="27.5">XI:1</text><text y="42.5">TM</text></g>
<g id="XI-2" transform="translate(158 771)"><use href="#ci"/><use href="#d"/><text y="27.5">XI:2</text><text y="42.5">MJM</text></g>
<g id="XI-3" transform="translate(336 771)"><use href="#sq"/><text y="27.5">XI:3</text><text y="42.5">LLH</text></g>
<g id="XI-4" transform="translate(391 771)"><use href="#ci"/><text y="27.5">XI:4</text><text y="42.5">EMAH</text></g>
<g id="XI-5" transform="translate(530 772)"><use href="#ci"/><use href="#d"/><text y="27.5">XI:5</text><text y="42.5">SGL</text></g>
<g id="XI-6" transform="translate(585 772)"><use href="#sq"/><use href="#d"/><text y="27.5">XI:6</text><text y="42.5">CJLRB</text></g>
<g id="XI-7" transform="translate(744 772)"><use href="#ci"/><text y="27.5">XI:7</text><text y="42.5">AHM</text></g>
<g id="XI-8" transform="translate(800 772)"><use href="#sq"/><text y="27.5">XI:8</text><text y="42.5">AKM</text></g>
<g id="XI-9" transform="translate(1068 773)"><use href="#sq"/><text y="27.5">XI:9</text><text y="42.5">IJB</text></g>
<g id="XI-10" transform="translate(1123 773)"><use href="#ci"/><text y="27.5">XI:10</text><text y="42.5">ECB</text></g>
<g id="XI-11" transform="translate(1762 774)"><use href="#ci"/><text y="27.5">XI:11</text><text y="42.5">EMB</text></g>
<g id="XI-12" transform="translate(1818 774)"><use href="#sq"/><use href="#d"/><text y="27.5">XI:12</text><text y="42.5">APB</text></g>
<g id="XII-1" transform="translate(83 844)"><use href="#sqh"/><text y="27.5">XII:1</text><text y="42.5">CJC</text></g>
<g id="XII-2" transform="translate(139 844)"><use href="#cih"/><text y="27.5">XII:2</text><text y="42.5">DRC</text></g>
<g id="XII-3" transform="translate(336 844)"><use href="#sqh"/><text y="27.5">XII:3</text><text y="42.5">PGH</text></g>
<g id="XII-4" transform="translate(391 844)"><use href="#cih"/><text y="27.5">XII:4</text><text y="42.5">NH</text></g>
<g id="XII-5" transform="translate(530 845)"><use href="#sqh"/><text y="27.5">XII:5</text><text y="42.5">CJB</text></g>
<g id="XII-6" transform="translate(585 845)"><use href="#cih"/><text y="27.5">XII:6</text><text y="42.5">CB</text></g>
<g id="XII-7" transform="translate(734 845)"><use href="#cih"/><text y="27.5">XII:7</text><text y="42.5">VJM</text></g>
<g id="XII-8" transform="translate(791 845)"><use href="#sqh"/><text y="27.5">XII:8</text><text y="42.5">AKM</text></g>
<g id="XII-9" transform="translate(1734 847)"><use href="#sq"/><text y="27.5">XII:9</text><text y="42.5">SPB</text></g>
<g id="XII-10" transform="translate(1790 847)"><use href="#sq"/><text y="27.5">XII:10</text><text y="42.5">AMJB</text></g>
<g id="XIII-1" transform="translate(28 917)"><use href="#cif"/><text y="27.5">XIII:1</text><text y="42.5">LC</text></g>
<g id="XIII-2" transform="translate(83 917)"><use href="#ci"/><text y="27.5">XIII:2</text><text y="42.5">CC</text></g>
<g id="XIII-3" transform="translate(139 917)"><use href="#cif"/><text y="27.5">XIII:3</text><text y="42.5">BPC</text></g>
<g id="XIII-4" transform="translate(195 917)"><use href="#sq"/><text y="27.5">XIII:4</text><text y="42.5">CC</text></g>
<g id="XIII-5" transform="translate(306 917)"><use href="#ci"/><text y="27.5">XIII:5</text><text y="42.5">CMH</text></g>
<g id="XIII-6" transform="translate(363 917)"><use href="#cif"/><text y="27.5">XIII:6</text><text y="42.5">CAH</text></g>
<g id="XIII-7" transform="translate(418 917)"><use href="#ci"/><text y="27.5">XIII:7</text><text y="42.5">LLH</text></g>
<g id="XIII-8" transform="translate(530 918)"><use href="#ci"/><text y="27.5">XIII:8</text><text y="42.5">CB</text></g>
<g id="XIII-9" transform="translate(585 918)"><use href="#sqf"/><text y="27.5">XIII:9</text><text y="42.5">RB</text></g>
<g id="XIII-10" transform="translate(706 918)"><use href="#cif"/><text y="27.5">XIII:10</text><text y="42.5">CM</text></g>
<g id="XIII-11" transform="translate(762 918)"><use href="#sq"/><text y="27.5">XIII:11</text><text y="42.5">DM</text></g>
<g id="XIII-12" transform="translate(818 918)"><use href="#sq"/><text y="27.5">XIII:12</text><text y="42.5">WM</text></g>
<g id="XIII-13" transform="translate(1706 920)"><use href="#sqh"/><text y="27.5">XIII:13</text><text y="42.5">AS</text></g>
<g id="XIII-14" transform="translate(1762 920)"><use href="#cih"/><text y="27.5">XIII:14</text><text y="42.5">ECS</text></g>
<g id="XIV-1" transform="translate(1706 992)"><use href="#sqf"/><use href="#d"/><text y="27.5">XIV:1</text><text y="42.5">AS</text></g>
<g id="XIV-2" transform="translate(1762 992)"><use href="#sq"/><text y="27.5">XIV:2</text><text y="42.5">AS</text></g>
</g>
</svg>
